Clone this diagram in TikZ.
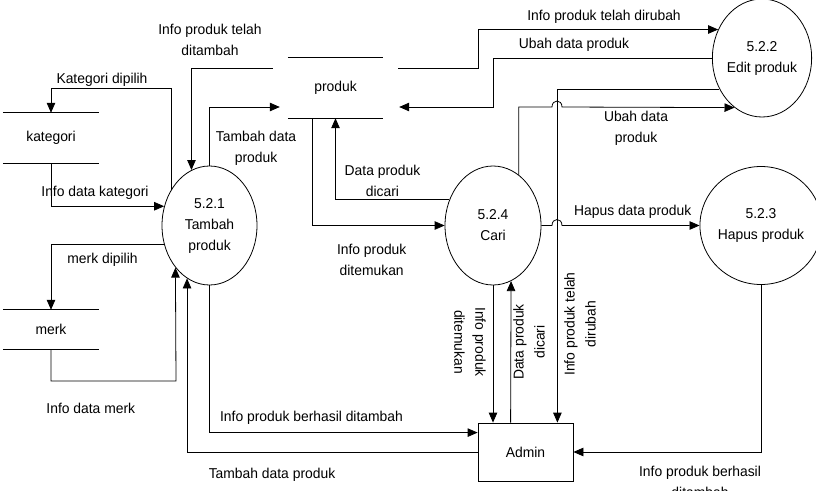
\documentclass[tikz,border=0pt]{standalone}
\usepackage{fontspec}
\setmainfont{Liberation Sans}[FakeStretch=0.97]
\usetikzlibrary{arrows.meta,shapes.geometric,calc}
\begin{document}
\begin{tikzpicture}[x=1pt,y=-1pt,
  font=\fontsize{14.3}{21}\selectfont,
  proc/.style={ellipse, draw, line width=0.8pt, minimum width=95pt, minimum height=119pt, inner sep=0pt, align=center},
  storebox/.style={inner sep=0pt, minimum width=96pt},
  ent/.style={draw, line width=0.8pt, rectangle, minimum width=95pt, minimum height=58pt, inner sep=0pt},
  flow/.style={draw, line width=0.8pt, -{Triangle[length=10pt,width=8.5pt]}},
  plain/.style={draw, line width=0.8pt},
  lbl/.style={align=center, inner sep=0pt},
  slbl/.style={inner sep=0pt, anchor=base}]
\useasboundingbox (0,0) rectangle (816,490);

% stores
\node[storebox, minimum height=50pt] (kat) at (51,138) {kategori};
\node[storebox, minimum height=39pt] (merk) at (51,329.5) {merk};
\node[storebox, minimum width=95pt, minimum height=60pt] (produk) at (335.5,88) {produk};
\draw[plain] (kat.north west) -- (kat.north east) (kat.south west) -- (kat.south east);
\draw[plain] (merk.north west) -- (merk.north east) (merk.south west) -- (merk.south east);
\draw[plain] (produk.north west) -- (produk.north east) (produk.south west) -- (produk.south east);

% processes
\node[proc] (p521) at (209.5,225.5) {5.2.1\\Tambah\\produk};
\node[proc, minimum width=96pt] (p524) at (493,225.5) {5.2.4\\Cari};
\node[proc, minimum width=94pt, minimum height=118pt] (p522) at (762,58) {5.2.2\\Edit produk};
\node[proc, minimum width=94pt, minimum height=118pt] (p523) at (761,225.5) {5.2.3\\Hapus produk};

% entity
\node[ent] (admin) at (525.5,452) {Admin};

% flows
\draw[flow] (p521.137.85) |- (51,88) -- (kat.north);
\draw[flow] (kat.south) |- (p521.157.7);
\draw[flow] ($(produk.west)+(-15,-20)$) -| (p521.108.65);
\draw[flow] (p521.north) |- ($(produk.west)+(-8,19)$);
\draw[flow] (p524.149.54) -| (produk.south);
\draw[flow] ($(produk.south)+(-23.5,0)$) |- (p524.west);
\draw[flow] ($(produk.east)+(15,-20)$) -- ++(80,0) |- (p522.147.13);
\draw[flow] (p522.west) -- ++(-219,0) |- ($(produk.east)+(16,19)$);
\draw[flow] (p524.63.8) |- (552,107) .. controls (552,99) and (562,99) .. (562,107) -- (p522.241.86);
\draw[flow] (p522.216.5) -| ($(admin.north east)+(-16,0)$);
\draw[flow] (p524.east) -- (552,225.5) .. controls (552,217.5) and (562,217.5) .. (562,225.5) -- (p523.west);
\draw[flow] (p524.south) -- (p524.south |- admin.north);
\draw[flow] ($(admin.north west)+(33,0)$) -- (p524.288.06);
\draw[flow] (p523.south) |- (admin.east);
\draw[flow] (p521.south) |- ($(admin.north west)+(0,10)$);
\draw[flow] (admin.west) -| (p521.247.94);
\draw[flow] (p521.203.48) -| (merk.north);
\draw[flow] (merk.south) |- (176,381) -- (p521.231.55);

% labels
\node[slbl] (l1) at (102,83.3) {Kategori dipilih};
\node[slbl] (l2) at (95,196.7) {Info data kategori};
\node[lbl] (l3) at (210,39.5) {Info produk telah\\ditambah};
\node[lbl] (l4) at (256,147.8) {Tambah data\\produk};
\node[lbl] (l5) at (382.5,181.2) {Data produk\\dicari};
\node[lbl] (l6) at (371.7,260) {Info produk\\ditemukan};
\node[slbl] (l7) at (604,20.7) {Info produk telah dirubah};
\node[slbl] (l8) at (574,48.3) {Ubah data produk};
\node[lbl] (l9) at (636,127.8) {Ubah data\\produk};
\node[slbl] (l10) at (632.7,215) {Hapus data produk};
\node[lbl, rotate=90] (l11) at (580,324) {Info produk telah\\dirubah};
\node[lbl, rotate=-90] (l12) at (470,342) {Info produk\\ditemukan};
\node[lbl, rotate=90] (l13) at (529,342) {Data produk\\dicari};
\node[slbl] (l14) at (102.5,263.3) {merk dipilih};
\node[slbl] (l15) at (90.8,413.3) {Info data merk};
\node[slbl] (l16) at (311.5,421.7) {Info produk berhasil ditambah};
\node[slbl] (l17) at (272,478.3) {Tambah data produk};
\node[lbl] (l18) at (700,481.7) {Info produk berhasil\\ditambah};
\end{tikzpicture}
\end{document}
